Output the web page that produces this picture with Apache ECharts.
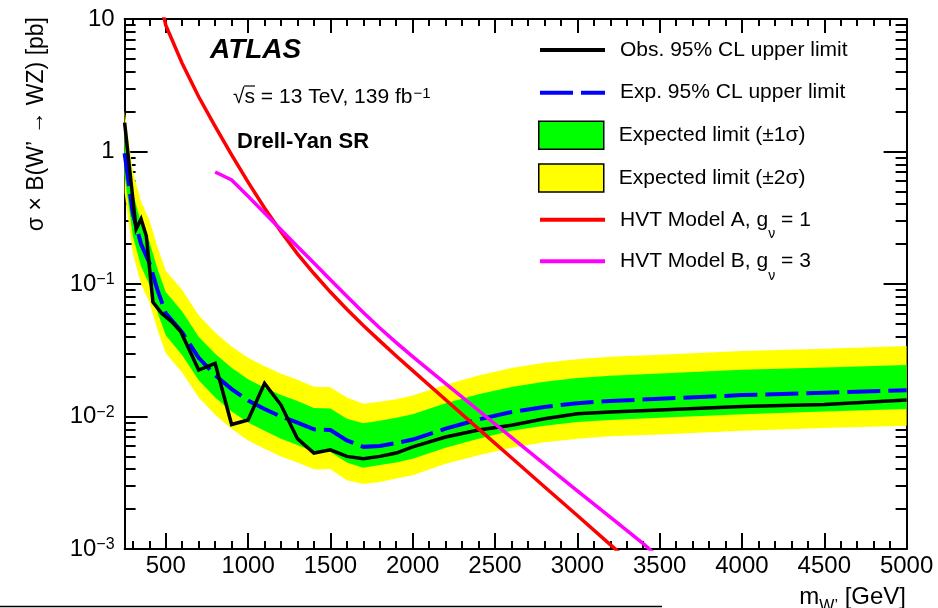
<!DOCTYPE html>
<html>
<head>
<meta charset="utf-8">
<script src="https://cdn.jsdelivr.net/npm/echarts@6/dist/echarts.min.js"></script>
<style>
  html, body { margin: 0; padding: 0; background: #fff; }
  #chart { width: 938px; height: 608px; }
</style>
</head>
<body>
<div id="chart"></div>
<script>
// Upper limits on sigma x B(W' -> WZ), Drell-Yan signal region, vs W' mass [GeV]

// Observed 95% CL upper limit [pb]
const massObs = [250, 320, 350, 382, 422, 475, 535, 590, 700, 800, 900, 1000, 1100, 1200, 1300, 1400, 1500, 1600, 1700, 1800, 1900, 2000, 2200, 2400, 2600, 2800, 3000, 3200, 3500, 4000, 4500, 5000];
const obsLimit = [1.65, 0.26, 0.31, 0.23, 0.073, 0.060, 0.052, 0.044, 0.0224, 0.0252, 0.0087, 0.0094, 0.0178, 0.0122, 0.0068, 0.0053, 0.0056, 0.0050, 0.0048, 0.0050, 0.0053, 0.0059, 0.0070, 0.0079, 0.0086, 0.0096, 0.0105, 0.0108, 0.0112, 0.0119, 0.0123, 0.0133];

// Expected 95% CL upper limit and its +-1 sigma / +-2 sigma bands [pb]
const massExp = [250, 300, 350, 400, 450, 500, 600, 700, 800, 900, 1000, 1100, 1200, 1300, 1400, 1500, 1600, 1700, 1800, 1900, 2000, 2200, 2400, 2600, 2800, 3000, 3200, 3500, 4000, 4500, 5000];
const expLimit = [0.97, 0.34, 0.20, 0.145, 0.090, 0.060, 0.043, 0.0277, 0.0205, 0.0161, 0.0132, 0.0114, 0.0100, 0.0090, 0.0080, 0.0079, 0.0066, 0.0059, 0.0060, 0.0063, 0.0067, 0.0081, 0.0095, 0.0108, 0.0118, 0.0126, 0.0131, 0.0136, 0.0145, 0.0151, 0.0158];
const exp2Up = [2.04, 0.71, 0.42, 0.305, 0.19, 0.126, 0.090, 0.058, 0.043, 0.0338, 0.0277, 0.0239, 0.0210, 0.0189, 0.0168, 0.0166, 0.0139, 0.0125, 0.0129, 0.0135, 0.0144, 0.0174, 0.0204, 0.0232, 0.0254, 0.0271, 0.0282, 0.0292, 0.0312, 0.0325, 0.0340];
const exp1Up = [1.41, 0.49, 0.29, 0.21, 0.13, 0.087, 0.062, 0.040, 0.0297, 0.0233, 0.0191, 0.0165, 0.0145, 0.0131, 0.0116, 0.0115, 0.0096, 0.0089, 0.0093, 0.0098, 0.0104, 0.0126, 0.0147, 0.0167, 0.0183, 0.0195, 0.0203, 0.0211, 0.0225, 0.0234, 0.0245];
const exp1Dn = [0.66, 0.23, 0.136, 0.099, 0.061, 0.041, 0.029, 0.0188, 0.0139, 0.0109, 0.0090, 0.0078, 0.0068, 0.0061, 0.0054, 0.0054, 0.0045, 0.0041, 0.0043, 0.0045, 0.0048, 0.0058, 0.0068, 0.0078, 0.0085, 0.0091, 0.0094, 0.0098, 0.0104, 0.0109, 0.0114];
const exp2Dn = [0.49, 0.17, 0.10, 0.073, 0.045, 0.030, 0.0215, 0.0139, 0.0103, 0.0081, 0.0066, 0.0057, 0.0050, 0.0045, 0.0040, 0.0040, 0.0033, 0.0031, 0.0032, 0.0034, 0.0036, 0.0044, 0.0051, 0.0058, 0.0064, 0.0068, 0.0071, 0.0073, 0.0078, 0.0082, 0.0085];

// HVT benchmark model predictions [pb]
const massA = [480, 500, 600, 700, 800, 900, 1000, 1100, 1200, 1300, 1400, 1500, 1600, 1700, 1800, 1900, 2000, 2200, 2400, 2600, 2800, 3000, 3200, 3400];
const hvtA = [11.5, 8.99, 4.61, 2.59, 1.545, 0.942, 0.587, 0.375, 0.248, 0.169, 0.120, 0.0869, 0.0644, 0.0486, 0.0372, 0.0286, 0.0222, 0.01337, 0.00807, 0.00488, 0.00295, 0.00179, 0.00108, 0.00065];
const massB = [800, 900, 1000, 1100, 1200, 1300, 1400, 1500, 1600, 1700, 1800, 1900, 2000, 2200, 2400, 2600, 2800, 3000, 3200, 3400, 3500];
const hvtB = [0.70, 0.61, 0.459, 0.344, 0.257, 0.192, 0.144, 0.1076, 0.0807, 0.061, 0.0465, 0.0361, 0.0283, 0.0177, 0.0111, 0.00697, 0.00437, 0.00275, 0.00174, 0.0011, 0.00085];

// Axis ticks and labels
const xRange = [250, 5000];
const yRange = [0.001, 10];
const xMajor = [500, 1000, 1500, 2000, 2500, 3000, 3500, 4000, 4500, 5000];
const xMinor = [300, 400, 600, 700, 800, 900, 1100, 1200, 1300, 1400, 1600, 1700, 1800, 1900, 2100, 2200, 2300, 2400, 2600, 2700, 2800, 2900, 3100, 3200, 3300, 3400, 3600, 3700, 3800, 3900, 4100, 4200, 4300, 4400, 4600, 4700, 4800, 4900];
const yMajor = [0.001, 0.01, 0.1, 1, 10];
const yMajorLabels = ['{b|10}{p|−3}', '{b|10}{p|−2}', '{b|10}{p|−1}', '{b|1}', '{b|10}'];
const yMinor = [0.002, 0.003, 0.004, 0.005, 0.006, 0.007, 0.008, 0.009,
                0.02, 0.03, 0.04, 0.05, 0.06, 0.07, 0.08, 0.09,
                0.2, 0.3, 0.4, 0.5, 0.6, 0.7, 0.8, 0.9,
                2, 3, 4, 5, 6, 7, 8, 9];

const FONT = '"Liberation Sans", Arial, Helvetica, sans-serif';
const pairs = (xs, ys) => xs.map((x, i) => [x, ys[i]]);

const chart = echarts.init(document.getElementById('chart'), null, { renderer: 'canvas' });

function xAxisDef(position, ticks, len, withLine, withLabels) {
  return {
    type: 'value', position, min: xRange[0], max: xRange[1],
    axisLine: { show: withLine, lineStyle: { color: '#000', width: 2 } },
    axisTick: { show: true, inside: true, length: len, customValues: ticks, lineStyle: { color: '#000', width: 2 } },
    axisLabel: withLabels
      ? { show: true, customValues: ticks, margin: 5, color: '#000', fontSize: 24, fontFamily: FONT,
          formatter: v => String(v) }
      : { show: false },
    splitLine: { show: false }
  };
}

function yAxisDef(position, ticks, len, withLine, withLabels) {
  return {
    type: 'log', logBase: 10, position, min: yRange[0], max: yRange[1],
    axisLine: { show: withLine, lineStyle: { color: '#000', width: 2 } },
    axisTick: { show: true, inside: true, length: len, customValues: ticks, lineStyle: { color: '#000', width: 2 } },
    axisLabel: withLabels
      ? {
          show: true, customValues: ticks, margin: 10, color: '#000',
          formatter: v => yMajorLabels[Math.round(Math.log10(v)) + 3],
          rich: {
            b: { fontSize: 24, lineHeight: 24, fontFamily: FONT, color: '#000', verticalAlign: 'bottom' },
            p: { fontSize: 16, lineHeight: 16, fontFamily: FONT, color: '#000', verticalAlign: 'top', padding: [0, 0, 14, 0] }
          }
        }
      : { show: false },
    splitLine: { show: false }
  };
}

function bandSeries(name, color, lo, hi) {
  return {
    name, type: 'custom', coordinateSystem: 'cartesian2d',
    xAxisIndex: 0, yAxisIndex: 0, silent: true, clip: true,
    itemStyle: { color },
    data: massExp.map((m, i) => [m, lo[i], hi[i]]),
    encode: { x: 0, y: [1, 2] },
    renderItem(params, api) {
      if (params.dataIndex !== 0) return null;
      const upper = massExp.map((m, i) => api.coord([m, hi[i]]));
      const lower = massExp.map((m, i) => api.coord([m, lo[i]])).reverse();
      return { type: 'polygon', shape: { points: upper.concat(lower) }, style: { fill: color } };
    }
  };
}

function lineSeries(name, xs, ys, color, width, dash, z) {
  return {
    name, type: 'line', xAxisIndex: 0, yAxisIndex: 0, data: pairs(xs, ys),
    symbol: 'none', showSymbol: false, smooth: false, clip: true, silent: true, z,
    itemStyle: { color },
    lineStyle: { color, width, type: dash || 'solid', cap: 'butt', join: 'miter' }
  };
}

const NAME_OBS = 'Obs. 95% CL upper limit';
const NAME_EXP = 'Exp. 95% CL upper limit';
const NAME_1S = 'Expected limit (±1σ)';
const NAME_2S = 'Expected limit (±2σ)';
const NAME_A = 'HVT Model A, g_ν = 1';
const NAME_B = 'HVT Model B, g_ν = 3';
const legendRich = {
  [NAME_OBS]: '{t|Obs. 95% CL upper limit}',
  [NAME_EXP]: '{t|Exp. 95% CL upper limit}',
  [NAME_1S]: '{t|Expected limit (±1σ)}',
  [NAME_2S]: '{t|Expected limit (±2σ)}',
  [NAME_A]: '{t|HVT Model A, g}{s|ν}{n| = 1}',
  [NAME_B]: '{t|HVT Model B, g}{s|ν}{n| = 3}'
};

// one legend block per row, so every row sits at its own height
function legendRow(name, top, boxColor) {
  const item = boxColor
    ? { name, icon: 'rect', itemStyle: { color: boxColor, borderColor: '#000', borderWidth: 1.5 } }
    : { name, itemStyle: { opacity: 0 } };
  return {
    show: true, orient: 'vertical', left: 538, top, padding: 0,
    itemWidth: 65, itemHeight: 28, itemGap: 0, selectedMode: false,
    data: [item],
    lineStyle: { width: 4 },
    formatter: n => legendRich[n],
    textStyle: {
      color: '#000', fontFamily: FONT, fontSize: 21,
      rich: {
        t: { fontSize: 21, fontFamily: FONT, color: '#000', padding: [0, 0, 0, 10], verticalAlign: 'middle' },
        n: { fontSize: 21, fontFamily: FONT, color: '#000', verticalAlign: 'middle' },
        s: { fontSize: 14, lineHeight: 14, fontFamily: FONT, color: '#000', verticalAlign: 'top', padding: [18, 0, 0, 0] }
      }
    }
  };
}

const option = {
  animation: false,
  backgroundColor: '#fff',
  textStyle: { fontFamily: FONT, color: '#000' },
  grid: { left: 124.6, right: 31.4, top: 19, bottom: 59, containLabel: false },
  xAxis: [
    xAxisDef('bottom', xMajor, 16, true, true),
    xAxisDef('bottom', xMinor, 8, false, false),
    xAxisDef('top', xMajor, 14, true, false),
    xAxisDef('top', xMinor, 7, false, false)
  ],
  yAxis: [
    yAxisDef('left', yMajor, 23, true, true),
    yAxisDef('left', yMinor, 11, false, false),
    yAxisDef('right', yMajor, 23, true, false),
    yAxisDef('right', yMinor, 11, false, false)
  ],
  legend: [
    legendRow(NAME_OBS, 50 - 11.2),
    legendRow(NAME_EXP, 92.7 - 11.2),
    legendRow(NAME_1S, 134.5 - 14, '#00ff00'),
    legendRow(NAME_2S, 177.3 - 14, '#ffff00'),
    legendRow(NAME_A, 219.3 - 10.7),
    legendRow(NAME_B, 260.7 - 10.7)
  ],
  series: [
    bandSeries(NAME_2S, '#ffff00', exp2Dn, exp2Up),
    bandSeries(NAME_1S, '#00ff00', exp1Dn, exp1Up),
    lineSeries(NAME_EXP, massExp, expLimit, '#0000ff', 4, [33, 8], 3),
    lineSeries(NAME_OBS, massObs, obsLimit, '#000000', 3.5, null, 4),
    lineSeries(NAME_A, massA, hvtA, '#ff0000', 3.5, null, 5),
    lineSeries(NAME_B, massB, hvtB, '#ff00ff', 3.5, null, 5)
  ],
  graphic: [
    { type: 'text', x: 210, y: 50, z: 100,
      style: { text: 'ATLAS', font: 'italic bold 28px ' + FONT, fill: '#000', align: 'left', verticalAlign: 'middle' } },
    { type: 'text', x: 233, y: 97, z: 100,
      style: {
        text: '{m|√s = 13 TeV, 139 fb}{p|−1}', align: 'left', verticalAlign: 'middle',
        rich: {
          m: { fontSize: 21, lineHeight: 21, fontFamily: FONT, fill: '#000', verticalAlign: 'bottom' },
          p: { fontSize: 15, lineHeight: 15, fontFamily: FONT, fill: '#000', verticalAlign: 'top', padding: [0, 0, 10, 1] }
        }
      } },
    { type: 'line', z: 100, shape: { x1: 244, y1: 86, x2: 255, y2: 86 }, style: { stroke: '#000', lineWidth: 1.2 } },
    { type: 'text', x: 237, y: 142, z: 100,
      style: { text: 'Drell-Yan SR', font: 'bold 22px ' + FONT, fill: '#000', align: 'left', verticalAlign: 'middle' } },
    { type: 'text', x: 37, y: 17, rotation: Math.PI / 2, z: 100,
      style: { text: 'σ × B(W’ → WZ) [pb]', font: '23px ' + FONT, fill: '#000', align: 'right', verticalAlign: 'middle' } },
    { type: 'text', x: 906, y: 597, z: 100,
      style: {
        text: '{a|m}{s|W’}{a| [GeV]}', align: 'right', verticalAlign: 'middle',
        rich: {
          a: { fontSize: 24, lineHeight: 24, fontFamily: FONT, fill: '#000', verticalAlign: 'top' },
          s: { fontSize: 16, lineHeight: 16, fontFamily: FONT, fill: '#000', verticalAlign: 'top', padding: [14, 0, 0, 0] }
        }
      } },
    { type: 'line', z: 100, shape: { x1: 0, y1: 606.5, x2: 662, y2: 606.5 }, style: { stroke: '#000', lineWidth: 1.5 } }
  ]
};

chart.setOption(option);
</script>
</body>
</html>
